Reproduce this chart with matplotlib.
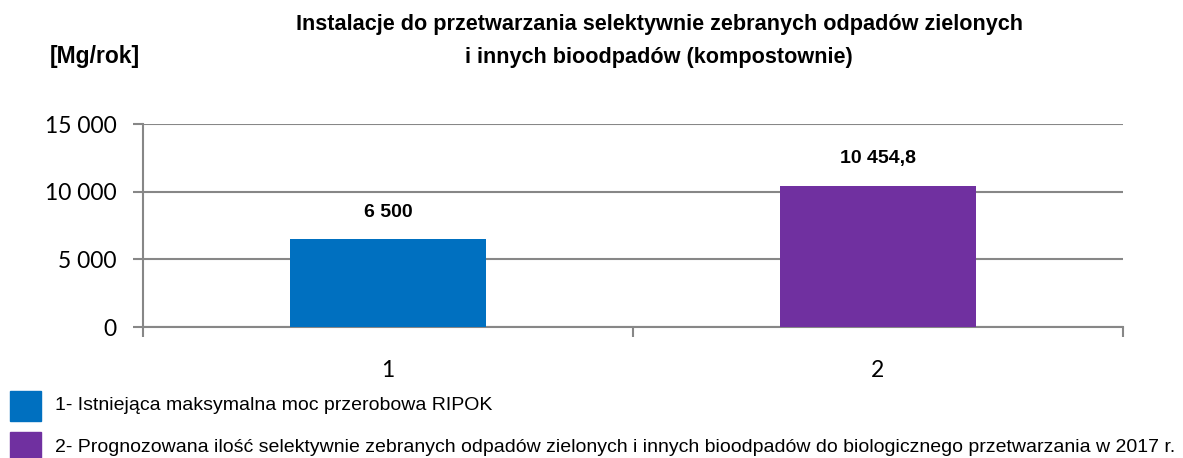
import matplotlib
matplotlib.use("Agg")
import matplotlib.pyplot as plt
from matplotlib.ticker import FuncFormatter, FixedLocator
from matplotlib.patches import Rectangle

categories = ["1", "2"]
values = [6500, 10454.8]
value_labels = ["6 500", "10 454,8"]
colors = ["#0070C0", "#7030A0"]
y_ticks = [0, 5000, 10000, 15000]
legend_texts = [
    "1- Istniejąca maksymalna moc przerobowa RIPOK",
    "2- Prognozowana ilość selektywnie zebranych odpadów zielonych i innych bioodpadów do biologicznego przetwarzania w 2017 r.",
]
title = "Instalacje do przetwarzania selektywnie zebranych odpadów zielonych\ni innych bioodpadów (kompostownie)"
unit = "[Mg/rok]"

narrow = ["Liberation Sans Narrow", "Liberation Sans", "DejaVu Sans"]
tickfont = ["Lato", "DejaVu Sans"]

W, H = 1183, 458
fig = plt.figure(figsize=(W / 100, H / 100), dpi=100)
ax = fig.add_axes([143 / W, 1 - 327 / H, (1123 - 143) / W, (327 - 124) / H])

x = list(range(len(categories)))
ax.bar(x, values, width=0.4, color=colors, zorder=3)
ax.set_xlim(-0.5, len(categories) - 0.5)
ax.set_ylim(0, 15000)
ax.set_yticks(y_ticks)
ax.yaxis.set_major_formatter(FuncFormatter(lambda v, p: f"{int(v):,}".replace(",", " ")))
ax.yaxis.grid(True, color="#878787", linewidth=1.5, zorder=0)
ax.set_xticks(x)
ax.set_xticklabels(categories)
ax.xaxis.set_minor_locator(FixedLocator([i - 0.5 for i in range(len(categories) + 1)]))
ax.tick_params(axis="x", which="major", length=0, pad=24)
ax.tick_params(axis="x", which="minor", length=7, width=1.5, color="#878787", direction="out")
ax.tick_params(axis="y", length=7, width=1.5, color="#878787", direction="out", pad=12)
for lab in ax.get_xticklabels() + ax.get_yticklabels():
    lab.set_fontfamily(tickfont)
    lab.set_fontsize(16.5)
for s in ["top", "right"]:
    ax.spines[s].set_visible(False)
for s in ["left", "bottom"]:
    ax.spines[s].set_color("#878787")
    ax.spines[s].set_linewidth(1.5)

for xi, v, lab in zip(x, values, value_labels):
    ax.annotate(lab, (xi, v), xytext=(0, 13), textcoords="offset points",
                ha="center", va="bottom", fontsize=14, fontweight="bold", family=narrow)

fig.text(659 / W, 1 - 41 / H, title, ha="center", va="center", fontsize=15.6,
         fontweight="bold", family=narrow, linespacing=1.75)
fig.text(95 / W, 1 - 56 / H, unit, ha="center", va="center", fontsize=16.5,
         fontweight="bold", family=narrow)

for i, (t, c) in enumerate(zip(legend_texts, colors)):
    yc = 406 + 41 * i
    fig.patches.append(Rectangle((10 / W, 1 - (yc + 15) / H), 31 / W, 30 / H,
                                 transform=fig.transFigure, color=c))
    fig.text(55 / W, 1 - yc / H, t, ha="left", va="center", fontsize=14, family=narrow)

fig.savefig("out.png", dpi=100)
